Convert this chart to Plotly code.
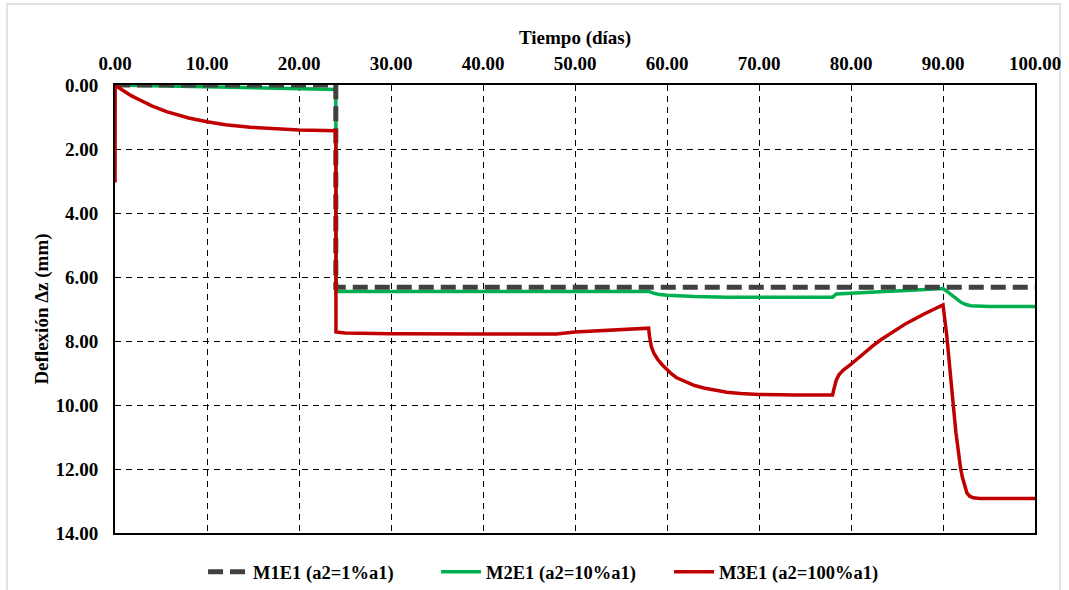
import plotly.graph_objects as go

# ---- data ----
m1_x = [0, 24, 24, 100]
m1_y = [0, 0, 6.32, 6.32]

m2_x = [0, 5, 10, 15, 20, 24, 24.05, 30, 40, 50, 58, 58.6, 59.2, 60, 61, 63, 66.5, 70,
        78, 78.4, 80, 83.2, 86, 90, 90.4, 90.9, 91.5, 92.0, 92.5, 93, 95, 100]
m2_y = [0, 0.03, 0.07, 0.10, 0.12, 0.14, 6.45, 6.45, 6.45, 6.45, 6.45, 6.51, 6.55,
        6.57, 6.59, 6.61, 6.63, 6.63, 6.63, 6.53, 6.50, 6.46, 6.42, 6.36, 6.44, 6.56,
        6.70, 6.80, 6.86, 6.90, 6.92, 6.92]

m3_x = [0, 0.02, 0.5, 1, 1.8, 2.7, 4, 5.6, 8, 10, 12, 14.7, 17, 20, 24, 24.02, 25, 30,
        40, 48, 50, 55, 58, 58.1, 58.3, 58.6, 59, 59.5, 60, 60.5, 61, 62, 63, 64, 65,
        66.5, 68, 70, 74, 78, 78.1, 78.2, 78.4, 78.7, 79.2, 79.9, 80.7, 81.5, 82.3,
        83.2, 84.6, 86, 88, 90, 90.4, 90.8, 91.1, 91.4, 91.7, 91.9, 92.1, 92.4, 92.6,
        92.9, 93.3, 94, 100]
m3_y = [3.05, 0, 0.10, 0.20, 0.34, 0.47, 0.65, 0.83, 1.03, 1.15, 1.24, 1.32, 1.37,
        1.41, 1.43, 7.72, 7.75, 7.77, 7.78, 7.78, 7.72, 7.65, 7.60, 7.85, 8.18, 8.40,
        8.58, 8.75, 8.90, 9.03, 9.14, 9.28, 9.39, 9.47, 9.53, 9.60, 9.64, 9.67, 9.69,
        9.69, 9.55, 9.40, 9.22, 9.05, 8.90, 8.75, 8.55, 8.36, 8.17, 7.97, 7.70, 7.45,
        7.15, 6.87, 7.80, 8.90, 9.95, 10.85, 11.60, 11.95, 12.25, 12.60, 12.75, 12.85,
        12.90, 12.92, 12.92]

names = ["M1E1 (a2=1%a1)", "M2E1 (a2=10%a1)", "M3E1 (a2=100%a1)"]
x_ticks = [0, 10, 20, 30, 40, 50, 60, 70, 80, 90, 100]
y_ticks = [0, 2, 4, 6, 8, 10, 12, 14]

FONT = "Liberation Serif, Times New Roman, serif"
FS = 19

fig = go.Figure()
fig.add_trace(go.Scatter(x=m2_x, y=m2_y, mode="lines", name=f"<b>{names[1]}</b>",
                         legendrank=2, line=dict(color="#00B050", width=3.5)))
fig.add_trace(go.Scatter(x=m1_x, y=m1_y, mode="lines", name=f"<b>{names[0]}</b>",
                         legendrank=1,
                         line=dict(color="#404040", width=5, dash="15px,7px")))
fig.add_trace(go.Scatter(x=m3_x, y=m3_y, mode="lines", name=f"<b>{names[2]}</b>",
                         legendrank=3, line=dict(color="#C00000", width=3.5)))

fig.update_layout(
    width=1069, height=590,
    margin=dict(l=115, r=34, t=85, b=57, autoexpand=False),
    paper_bgcolor="white", plot_bgcolor="white",
    font=dict(family=FONT, size=FS, color="black"),
    showlegend=True,
    legend=dict(orientation="h", x=0.0957, xanchor="left", y=-0.045, yanchor="top",
                font=dict(family=FONT, size=18.5, color="black"),
                traceorder="normal", itemwidth=40, entrywidth=178,
                bgcolor="rgba(0,0,0,0)"),
    xaxis=dict(
        side="top", range=[0, 100], tickvals=x_ticks,
        ticktext=[f"<b>{v:.2f}</b>" for v in x_ticks],
        tickfont=dict(family=FONT, size=FS),
        title=dict(text="<b>Tiempo (días)</b>", font=dict(family=FONT, size=FS), standoff=4),
        showline=True, linecolor="black", linewidth=2, mirror=True,
        showgrid=True, gridcolor="black", gridwidth=1.3, griddash="6px,5px",
        zeroline=False, ticks="", ticklabelstandoff=5,
    ),
    yaxis=dict(
        range=[14, 0], tickvals=y_ticks,
        ticktext=[f"<b>{v:.2f}</b>" for v in y_ticks],
        tickfont=dict(family=FONT, size=FS),
        title=dict(text="<b>Deflexión Δz (mm)</b>", font=dict(family=FONT, size=FS), standoff=2),
        showline=True, linecolor="black", linewidth=2, mirror=True,
        showgrid=True, gridcolor="black", gridwidth=1.3, griddash="6px,5px",
        zeroline=False, ticks="", ticklabelstandoff=11,
    ),
    shapes=[dict(type="rect", xref="paper", yref="paper",
                 x0=-0.1174, x1=1.0272, y0=-0.14, y1=1.1808,
                 line=dict(color="#D9D9D9", width=1.5), layer="below")],
)

fig.write_html("out.html", config={"displayModeBar": False},
               post_script="document.body.style.margin='0';document.body.style.padding='0';")
